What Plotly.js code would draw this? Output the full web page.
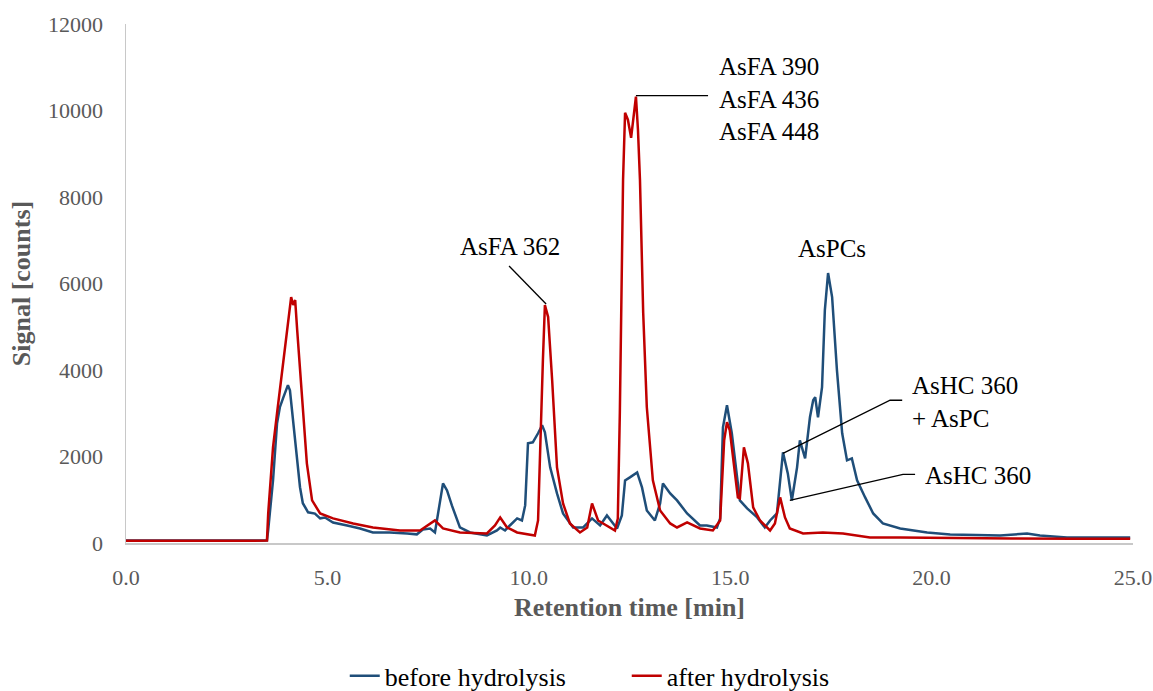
<!DOCTYPE html>
<html>
<head>
<meta charset="utf-8">
<script src="https://cdn.plot.ly/plotly-3.0.1.min.js"></script>
<style>html,body{margin:0;padding:0;background:#fff;}#chart{width:1153px;height:691px;}</style>
</head>
<body>
<div id="chart"></div>
<script>
// Retention time [min] and signal [counts]
var beforeTime = [0, 0.8, 1.6, 2.4, 3.0, 3.45, 3.50, 3.53, 3.65, 3.75, 3.82, 3.90, 4.02, 4.07, 4.15, 4.25, 4.32, 4.39, 4.52, 4.69, 4.82, 4.94, 5.14, 5.49, 5.81, 6.13, 6.55, 6.98, 7.22, 7.37, 7.55, 7.67, 7.75, 7.87, 7.97, 8.09, 8.29, 8.54, 8.96, 9.21, 9.29, 9.41, 9.53, 9.71, 9.83, 9.91, 9.98, 10.10, 10.23, 10.33, 10.40, 10.53, 10.70, 10.85, 11.10, 11.35, 11.57, 11.77, 11.94, 12.19, 12.31, 12.39, 12.51, 12.69, 12.81, 12.93, 13.13, 13.26, 13.33, 13.51, 13.68, 13.93, 14.25, 14.42, 14.67, 14.75, 14.82, 14.92, 15.04, 15.17, 15.24, 15.42, 15.67, 15.86, 15.99, 16.16, 16.24, 16.31, 16.43, 16.53, 16.66, 16.73, 16.86, 16.98, 17.06, 17.11, 17.18, 17.28, 17.35, 17.43, 17.53, 17.65, 17.78, 17.90, 18.02, 18.15, 18.35, 18.55, 18.79, 19.22, 19.89, 20.46, 21.10, 21.70, 22.37, 22.69, 23.36, 24.10, 24.93];
var beforeSignal = [60, 55, 62, 50, 58, 60, 62, 300, 1450, 2770, 3140, 3350, 3650, 3530, 2840, 1980, 1290, 920, 710, 680, 570, 590, 475, 405, 335, 245, 245, 220, 200, 310, 335, 245, 680, 1378, 1216, 869, 359, 243, 174, 290, 359, 290, 405, 568, 521, 869, 2305, 2328, 2537, 2722, 2560, 1749, 1147, 683, 359, 359, 568, 405, 637, 336, 637, 1448, 1517, 1633, 1286, 753, 521, 915, 1378, 1147, 984, 683, 405, 405, 359, 568, 2675, 3185, 2537, 1448, 984, 799, 591, 359, 521, 683, 1448, 2096, 1610, 984, 1749, 2374, 1957, 2907, 3301, 3370, 2907, 3602, 5386, 6243, 5687, 3996, 2537, 1911, 1957, 1448, 1054, 683, 452, 336, 243, 197, 185, 174, 220, 174, 127, 130, 127];

var afterTime = [0, 0.8, 1.6, 2.4, 3.0, 3.45, 3.50, 3.53, 3.65, 3.75, 3.90, 4.02, 4.10, 4.15, 4.20, 4.25, 4.37, 4.49, 4.62, 4.82, 5.14, 5.64, 6.13, 6.80, 7.30, 7.50, 7.67, 7.87, 8.29, 8.96, 9.16, 9.29, 9.46, 9.71, 10.15, 10.23, 10.28, 10.35, 10.40, 10.48, 10.58, 10.70, 10.85, 11.02, 11.27, 11.45, 11.57, 11.72, 12.14, 12.21, 12.26, 12.34, 12.39, 12.46, 12.54, 12.59, 12.66, 12.71, 12.76, 12.84, 12.93, 13.08, 13.26, 13.51, 13.68, 13.93, 14.25, 14.57, 14.75, 14.85, 14.92, 14.99, 15.12, 15.19, 15.24, 15.34, 15.44, 15.57, 15.74, 15.99, 16.11, 16.24, 16.36, 16.48, 16.81, 17.30, 17.80, 18.47, 19.22, 20.5, 22.0, 23.5, 24.93];
var afterSignal = [50, 55, 48, 52, 50, 55, 60, 683, 2212, 3000, 4158, 5154, 5687, 5502, 5617, 4922, 3370, 1842, 984, 683, 568, 452, 359, 290, 290, 405, 521, 336, 243, 220, 405, 591, 359, 243, 174, 521, 2212, 4228, 5502, 5224, 3764, 1749, 915, 452, 243, 359, 915, 521, 290, 568, 3000, 8397, 9949, 9787, 9370, 9787, 10320, 9555, 8397, 5316, 3139, 1448, 753, 452, 359, 475, 336, 290, 521, 2374, 2791, 2606, 1679, 1054, 1031, 2212, 1842, 822, 521, 290, 452, 1054, 591, 336, 220, 243, 220, 127, 127, 110, 105, 100, 100];

var seriesNames = ["before hydrolysis", "after hydrolysis"];
var xTicks = [0, 5, 10, 15, 20, 25];
var yTicks = [0, 2000, 4000, 6000, 8000, 10000, 12000];

var serif = 'Liberation Serif';
var grey = '#595959';

var traces = [
  {x: beforeTime, y: beforeSignal, name: seriesNames[0], type: 'scatter', mode: 'lines',
   line: {color: '#1f4e79', width: 2.5}},
  {x: afterTime, y: afterSignal, name: seriesNames[1], type: 'scatter', mode: 'lines',
   line: {color: '#c00000', width: 2.5}}
];

var annFont = {family: serif, size: 25, color: '#000000'};
var layout = {
  width: 1153, height: 691,
  margin: {l: 126, r: 20, t: 24, b: 148, pad: 0},
  paper_bgcolor: '#ffffff', plot_bgcolor: '#ffffff',
  font: {family: serif},
  showlegend: true,
  legend: {orientation: 'h', xref: 'container', yref: 'container', x: 0.299, xanchor: 'left',
           y: 0.022, yanchor: 'middle', font: {family: serif, size: 26, color: '#000000'},
           entrywidth: 237, entrywidthmode: 'pixels', traceorder: 'normal'},
  xaxis: {range: [0, 25], tickvals: xTicks, tickformat: '.1f', showgrid: false, zeroline: false,
          showline: true, linecolor: '#c8c8c8', linewidth: 2, ticks: '', ticklabelstandoff: 14,
          tickfont: {family: serif, size: 22, color: grey},
          title: {text: '<b>Retention time [min]</b>', font: {family: serif, size: 26, color: grey}, standoff: 8}},
  yaxis: {range: [0, 12000], tickvals: yTicks, tickformat: 'd', showgrid: false, zeroline: false,
          showline: true, linecolor: '#c8c8c8', linewidth: 1.5, ticks: '', ticklabelstandoff: 17,
          tickfont: {family: serif, size: 22, color: grey},
          title: {text: '<b>Signal [counts]</b>', font: {family: serif, size: 26, color: grey}, standoff: 10}},
  annotations: [
    {x: 9.53, y: 6845, xref: 'x', yref: 'y', text: 'AsFA 362', showarrow: false, font: annFont, xanchor: 'center', yanchor: 'middle'},
    {x: 14.67, y: 10273, xref: 'x', yref: 'y', text: 'AsFA 390<br>AsFA 436<br>AsFA 448', showarrow: false, font: annFont, xanchor: 'left', yanchor: 'middle', align: 'left'},
    {x: 17.53, y: 6799, xref: 'x', yref: 'y', text: 'AsPCs', showarrow: false, font: annFont, xanchor: 'center', yanchor: 'middle'},
    {x: 19.46, y: 3266, xref: 'x', yref: 'y', text: 'AsHC 360<br>+ AsPC', showarrow: false, font: annFont, xanchor: 'left', yanchor: 'middle', align: 'left'},
    {x: 19.79, y: 1564, xref: 'x', yref: 'y', text: 'AsHC 360', showarrow: false, font: annFont, xanchor: 'left', yanchor: 'middle'}
  ],
  shapes: [
    {type: 'line', xref: 'x', yref: 'y', x0: 9.51, y0: 6405, x1: 10.43, y1: 5525, line: {color: '#000', width: 1.3}},
    {type: 'line', xref: 'x', yref: 'y', x0: 12.66, y0: 10343, x1: 14.45, y1: 10343, line: {color: '#000', width: 1.3}},
    {type: 'path', xref: 'x', yref: 'y', path: 'M16.31,2073 L18.97,3301 L19.27,3301', line: {color: '#000', width: 1.3}},
    {type: 'path', xref: 'x', yref: 'y', path: 'M16.48,985 L19.29,1587 L19.59,1587', line: {color: '#000', width: 1.3}}
  ]
};

Plotly.newPlot('chart', traces, layout, {displayModeBar: false, staticPlot: true});
</script>
</body>
</html>
